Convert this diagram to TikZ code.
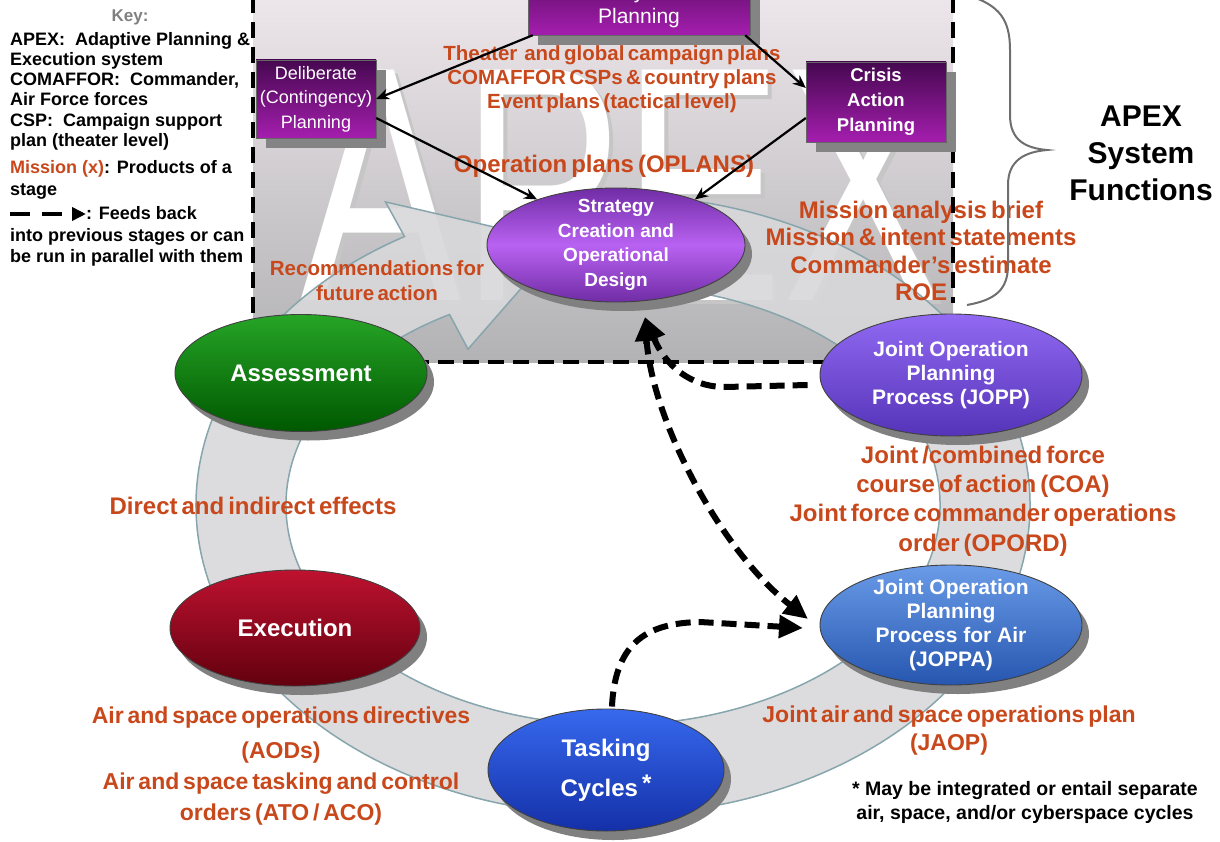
\documentclass[tikz,border=0pt]{standalone}
\usepackage{fontspec}
\setmainfont{Liberation Sans}
\newfontfamily\ofont[WordSpace=0.6]{Liberation Sans}
\usetikzlibrary{shapes.geometric,arrows.meta,calc,shadows}
\definecolor{orng}{RGB}{200,72,28}
\definecolor{bgtop}{RGB}{237,230,234}
\definecolor{bgbot}{RGB}{178,178,180}
\definecolor{bandfill}{RGB}{216,216,218}
\definecolor{bandline}{RGB}{135,165,172}
\definecolor{boxtop}{RGB}{70,8,80}
\definecolor{boxbot}{RGB}{165,30,175}
\definecolor{shadowc}{RGB}{132,132,132}
\definecolor{stA}{RGB}{112,44,165}
\definecolor{stB}{RGB}{185,98,242}
\definecolor{asA}{RGB}{38,165,38}
\definecolor{asB}{RGB}{0,88,0}
\definecolor{exA}{RGB}{190,18,48}
\definecolor{exB}{RGB}{98,0,14}
\definecolor{taA}{RGB}{55,105,238}
\definecolor{taB}{RGB}{20,48,168}
\definecolor{jaA}{RGB}{105,155,232}
\definecolor{jaB}{RGB}{38,86,175}
\definecolor{jpA}{RGB}{145,105,242}
\definecolor{jpB}{RGB}{85,52,185}
\definecolor{bracec}{RGB}{110,110,110}
\begin{document}
\begin{tikzpicture}[x=1pt,y=-1pt,
  ell/.style={ellipse, inner xsep=0pt, inner ysep=-14pt, align=center, text=white,
    draw=black!75, line width=0.9pt,
    drop shadow={shadow xshift=7pt, shadow yshift=-9pt, fill=black!50, opacity=1}},
  ptxt/.style={inner sep=0pt, align=center, text=white},
  boxfill/.style={draw=black!60, line width=0.8pt, top color=boxtop, bottom color=boxbot},
  bsh/.style={fill=shadowc},
  otxt/.style={text=orng, align=center, inner sep=0pt},
  keyl/.style={anchor=base west, inner sep=0pt, font=\bfseries\fontsize{18}{20}\selectfont},
  sa/.style={line width=2.2pt, -{Stealth[length=13pt,width=11pt]}},
  fb/.style={line width=6pt, dash pattern=on 15pt off 8pt, -{Triangle[length=24pt,width=22pt]}},
  fbb/.style={line width=6pt, dash pattern=on 15pt off 8pt, {Triangle[length=24pt,width=22pt]}-{Triangle[length=24pt,width=22pt]}},
  bandst/.style={fill=bandfill, fill opacity=0.9, draw=bandline, line width=1.5pt},
  brd/.style={line width=4.5pt, dash pattern=on 16pt off 9pt}
]
\useasboundingbox (0,0) rectangle (1220,842);

% shaded APEX area
\fill[top color=bgtop, bottom color=bgbot] (253,-5) rectangle (953,362);

% big APEX letters
\node[anchor=base, inner sep=0pt, xscale=0.72, text=gray!45, font=\fontsize{335}{335}\selectfont] (bigS) at (626,304) {APEX};
\node[anchor=base, inner sep=0pt, xscale=0.72, text=white, font=\fontsize{335}{335}\selectfont] (big) at (622,300) {APEX};

% cycle band
\coordinate (bc) at (613,505);
\path[bandst] ($(bc)+(275:417 and 310)$) arc[start angle=275,end angle=600,x radius=417,y radius=310]
  -- ($(bc)+(600:455 and 350)$) -- ($(bc)+(622:372 and 265)$) -- ($(bc)+(600:290 and 180)$)
  -- ($(bc)+(600:327 and 220)$) arc[start angle=600,end angle=275,x radius=327,y radius=220] -- cycle;

% products (orange)
\node[otxt, font=\ofont\bfseries\fontsize{20.5}{24}\selectfont] (tplans) at (612,79) {Theater\ \ and global campaign plans\\COMAFFOR CSPs \& country plans\\Event plans (tactical level)};
\node[otxt, font=\ofont\bfseries\fontsize{24}{28}\selectfont] (toplans) at (604,166) {Operation plans (OPLANS)};
\node[otxt, font=\ofont\bfseries\fontsize{24}{27.3}\selectfont] (tmission) at (921,251) {Mission analysis brief\\Mission \& intent statements\\Commander’s estimate\\ROE};
\node[otxt, font=\ofont\bfseries\fontsize{20.5}{25}\selectfont] (treco) at (377,281) {Recommendations for\\future action};
\node[otxt, font=\ofont\bfseries\fontsize{24}{28}\selectfont] (teff) at (253,506) {Direct and indirect effects};
\node[otxt, font=\ofont\bfseries\fontsize{24}{29.3}\selectfont] (tcoa) at (983,501) {Joint /combined force\\course of action (COA)\\Joint force commander operations\\order (OPORD)};
\node[otxt, font=\ofont\bfseries\fontsize{23}{31}\selectfont] (taod) at (281,766) {Air and space operations directives\\[4pt](AODs)\\Air and space tasking and control\\orders (ATO / ACO)};
\node[otxt, font=\ofont\bfseries\fontsize{23}{28}\selectfont] (tjaop) at (949,731) {Joint air and space operations plan\\(JAOP)};

% dashed border of APEX functions
\draw[brd] (253,-3) -- (253,362) -- (830,362);
\draw[brd] (953,-3) -- (953,303);

% brace and label
\draw[bracec, line width=2pt] (967,-5) .. controls (1000,5) and (1010,20) .. (1010,50) -- (1010,115)
  .. controls (1010,140) and (1025,148) .. (1047,150) .. controls (1025,152) and (1008,160) .. (1008,185)
  -- (1008,265) .. controls (1008,290) and (995,300) .. (967,305);
\node[align=center, inner sep=0pt, font=\bfseries\fontsize{30}{37}\selectfont] (asf) at (1141,153) {APEX\\System\\Functions};

% key
\node[anchor=base, inner sep=0pt, text=gray, font=\bfseries\fontsize{17}{20}\selectfont] (key) at (130,22) {Key:};
\node[keyl] (k1) at (10,46) {APEX:\ \ Adaptive Planning \&};
\node[keyl] (k2) at (10,66) {Execution system};
\node[keyl] (k3) at (10,86) {COMAFFOR:\ \ Commander,};
\node[keyl] (k4) at (10,106) {Air Force forces};
\node[keyl] (k5) at (10,127) {CSP:\ \ Campaign support};
\node[keyl] (k6) at (10,147) {plan (theater level)};
\node[keyl] (k7) at (10,174) {\textcolor{orng}{Mission (x)}: Products of a};
\node[keyl] (k8) at (10,196) {stage};
\coordinate (ka) at (10,214);
\coordinate (kb) at (86,214);
\draw[line width=4pt, dash pattern=on 20pt off 12pt, -{Triangle[length=14pt,width=13pt]}] (ka) -- (kb);
\node[keyl] (k9) at (86,220) {: Feeds back};
\node[keyl] (k10) at (10,242) {into previous stages or can};
\node[keyl] (k11) at (10,262) {be run in parallel with them};

% footnote
\node[align=center, inner sep=0pt, font=\bfseries\fontsize{19.5}{24}\selectfont] (fn) at (1025,802) {* May be integrated or entail separate\\air, space, and/or cyberspace cycles};

% planning boxes: shadow, shaded box, then text node
\fill[bsh] (538,-35) rectangle (760,45);
\fill[bsh] (266,70) rectangle (386,148);
\fill[bsh] (816,72) rectangle (956,152);
\path[boxfill] (528,-45) rectangle (750,35);
\path[boxfill] (256,60) rectangle (376,138);
\path[boxfill] (806,62) rectangle (946,142);
\node[ptxt, minimum width=222pt, minimum height=80pt] (steady) at (639,-5) {};
\node[ptxt, font=\fontsize{21}{25}\selectfont] (steadytxt) at (639,6) {Steady State\\Planning};
\node[ptxt, minimum width=120pt, minimum height=78pt, font=\fontsize{18}{24.5}\selectfont] (delib) at (316,99) {Deliberate\\(Contingency)\\Planning};
\node[ptxt, minimum width=140pt, minimum height=80pt, font=\bfseries\fontsize{18.5}{25}\selectfont] (crisis) at (876,102) {Crisis\\Action\\Planning};

% stage ellipses
\node[ell, minimum width=258pt, minimum height=114pt, top color=stA, bottom color=stA, middle color=stB, font=\bfseries\fontsize{19}{24.5}\selectfont] (strat) at (616,245) {Strategy\\Creation and\\Operational\\Design};
\node[ell, minimum width=252pt, minimum height=117pt, top color=asA, bottom color=asB, font=\bfseries\fontsize{24}{28}\selectfont] (assess) at (301,373) {Assessment};
\node[ell, minimum width=250pt, minimum height=116pt, top color=exA, bottom color=exB, font=\bfseries\fontsize{24}{28}\selectfont] (exec) at (295,628) {Execution};
\node[ell, minimum width=236pt, minimum height=122pt, top color=taA, bottom color=taB, font=\bfseries\fontsize{24}{29}\selectfont] (task) at (606,770) {Tasking\\[11pt]Cycles\,\raisebox{5pt}{*}};
\node[ell, minimum width=262pt, minimum height=120pt, top color=jaA, bottom color=jaB, font=\bfseries\fontsize{21}{24}\selectfont] (joppa) at (951,625) {Joint Operation\\Planning\\Process for Air\\(JOPPA)};
\node[ell, minimum width=262pt, minimum height=122pt, top color=jpA, bottom color=jpB, font=\bfseries\fontsize{21}{24}\selectfont] (jopp) at (951,375) {Joint Operation\\Planning\\Process (JOPP)};

% solid arrows between functions
\draw[sa] ([xshift=5pt]steady.south west) -- (delib.east);
\draw[sa] ([xshift=-5pt]steady.south east) -- ([yshift=14pt]crisis.west);
\draw[sa] ([yshift=-19pt]delib.east) -- (strat.150);
\draw[sa] ([yshift=-16pt]crisis.west) -- (strat.30);

% feedback / parallel dashed arrows
\coordinate (ctip) at (645,317);
\coordinate (jtip) at (808,619);
\coordinate (jtip2) at (803,628);
\draw[fb] ([xshift=-12pt,yshift=-10pt]jopp.west) -- (725,387) .. controls (690,387) and (665,365) .. (ctip);
\draw[fbb] (ctip) .. controls (652,420) and (720,550) .. (jtip);
\draw[fb] ([xshift=6pt,yshift=2pt]task.north) .. controls (615,640) and (650,623) .. (700,622) -- (jtip2);
\end{tikzpicture}
\end{document}
